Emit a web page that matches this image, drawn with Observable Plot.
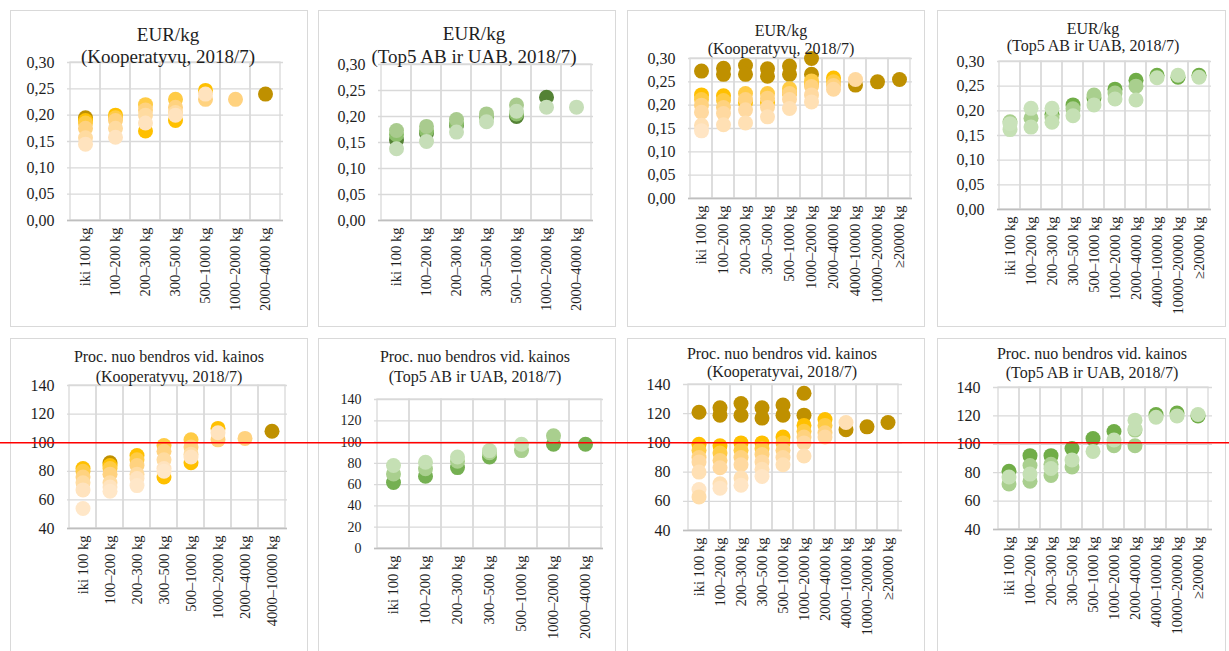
<!DOCTYPE html>
<html><head><meta charset="utf-8">
<script src="https://cdn.jsdelivr.net/npm/d3@7"></script>
<script src="https://cdn.jsdelivr.net/npm/@observablehq/plot@0.6"></script>
<style>
body{margin:0;background:#fff;font-family:"Liberation Serif","Times New Roman",serif;}
#page{position:relative;width:1229px;height:651px;overflow:hidden;background:#fff;}
.box{position:absolute;border:1px solid #d9d9d9;box-sizing:border-box;z-index:0;}
.tl{position:absolute;width:400px;text-align:center;color:#1e1e1e;white-space:nowrap;z-index:3;}
.chart{position:absolute;z-index:1;}
.chart svg{overflow:visible;}
.redline{position:absolute;z-index:4;pointer-events:none;}
</style></head><body><div id="page"></div>
<script>
// ---------- categories ----------
const catsA = ["iki 100 kg","100–200 kg","200–300 kg","300–500 kg","500–1000 kg","1000–2000 kg","2000–4000 kg"];
const catsC = [...catsA, "4000–10000 kg"];
const catsB = [...catsA, "4000–10000 kg","10000–20000 kg","≥20000 kg"];

// ---------- colours ----------
const coopColors6 = ["#BF9000","#FFC000","#FFCB45","#FFD27F","#FFDBA0","#FFE3BE"];
const coopColors7 = ["#BF9000","#FFC000","#FFCB45","#FFD27F","#FFDBA0","#FFE3BE","#FFE7C8"];
const coopColors9 = ["#BF9000","#BF9000","#FFC000","#FFCB45","#FFD27F","#FFD9A0","#FFE0B4","#FFE5C4","#FFDDAA"];
const p2Colors = ["#548235","#8CBF6B","#A9CB8E","#C6DEB8"];
const p4Colors = ["#70AD47","#A9CF8E","#C5E0B4","#C9E2BA"];
const p6Colors = ["#75B052","#A9CF8E","#C5E0B4"];
const p8Colors = ["#70AD47","#A9CF8E","#A9CF8E","#C5E0B4","#C5E0B4"];

// ---------- values ----------
const p1Values = [
  [0.195, null, null, null, null, null, 0.24],
  [0.19, 0.20, 0.17, 0.19, 0.247, null, null],
  [0.185, 0.195, 0.22, 0.23, null, null, null],
  [0.175, 0.19, 0.21, 0.215, 0.23, 0.23, null],
  [0.157, 0.175, 0.2, 0.205, null, null, null],
  [0.145, 0.158, 0.185, 0.2, 0.24, null, null]
];
const p2Values = [
  [0.155, 0.168, 0.183, null, 0.2, 0.237, null],
  [0.165, 0.172, 0.186, 0.198, 0.205, null, null],
  [0.173, 0.181, 0.194, 0.205, 0.222, null, null],
  [0.138, 0.152, 0.17, 0.19, 0.21, 0.218, 0.218]
];
const p3Values = [
  [0.273, 0.279, 0.285, 0.278, 0.284, 0.30, null, 0.243, 0.25, 0.255],
  [null, 0.266, 0.266, 0.262, 0.266, 0.266, null, null, null, null],
  [0.222, 0.22, 0.205, 0.205, 0.225, 0.245, 0.258, null, null, null],
  [0.212, 0.21, 0.225, 0.225, 0.235, 0.252, 0.25, null, null, null],
  [0.2, 0.195, 0.212, 0.215, 0.225, 0.24, 0.242, null, null, null],
  [0.185, 0.182, 0.19, 0.195, 0.212, 0.222, 0.234, 0.255, null, null],
  [0.157, 0.158, 0.162, 0.175, 0.193, 0.207, null, null, null, null],
  [0.145, null, null, null, null, null, null, null, null, null]
];
const p4Values = [
  [null, null, 0.193, 0.212, 0.226, 0.244, 0.262, 0.272, 0.268, 0.272],
  [0.178, 0.185, 0.186, 0.204, 0.232, 0.236, 0.25, null, null, null],
  [0.162, 0.167, 0.177, 0.19, 0.212, 0.224, 0.222, 0.267, 0.272, 0.268],
  [0.174, 0.205, 0.205, null, null, null, null, null, null, null]
];
const p5Values = [
  [null, 86, null, null, null, null, null, 108],
  [82, 84, 91, 76, 86, 110, null, null],
  [80, 82, 88, 98, 102, null, null, null],
  [76, 78, 84, 94, 97, 102, 103, null],
  [72, 72, 78, 88, 92, null, null, null],
  [67, 69, 75, 82, 90, 107, null, null],
  [54, 66, 70, 80, null, null, null, null]
];
const p6Values = [
  [62, 68, 76, 86, null, 98, 98],
  [70, 75, 82, 90, 92, 106, null],
  [78, 81, 86, 92, 98, null, null]
];
const p7Values = [
  [121, 124, 127, 124, 126, 134, null, 109, 111, 114],
  [null, 119, 119, 117, 119, 119, null, null, null, null],
  [99, 98, 100, 100, 104, 112, 116, null, null, null],
  [95, 93, 95, 96, 100, 108, 112, null, null, null],
  [90, 88, 90, 92, 95, 104, 107, null, null, null],
  [87, 83, 85, 87, 90, 100, 104, null, null, null],
  [80, 72, 76, 82, 85, 91, null, 114, null, null],
  [68, 69, 71, 77, null, null, null, null, null, null],
  [63, null, null, null, null, null, null, null, null, null]
];
const p8Values = [
  [81, 92, 92, 97, 104, 109, null, 121, 122, 120],
  [72, 74, 78, 84, null, 99, 99, null, null, null],
  [null, 85, 86, null, null, null, 110, null, null, null],
  [77, 79, 83, 89, 95, 103, 111, 119, 120, 121],
  [null, null, null, null, null, null, 117, null, null, null]
];

// ---------- axes ----------
const eurTicks = [0, 0.05, 0.10, 0.15, 0.20, 0.25, 0.30];
const pct40Ticks = [40, 60, 80, 100, 120, 140];
const pct0Ticks = [0, 20, 40, 60, 80, 100, 120, 140];
const refLine = [100];

const eurFmt = d => d.toFixed(2).replace(".", ",");
const pctFmt = d => String(d);

const page = document.getElementById("page");

function addTitle(text, cx, cy, size) {
  const d = document.createElement("div");
  d.className = "tl";
  d.textContent = text;
  d.style.left = (cx - 200) + "px";
  d.style.top = (cy - size * 0.6) + "px";
  d.style.fontSize = size + "px";
  d.style.lineHeight = (size * 1.2) + "px";
  page.appendChild(d);
}

function panel(cfg) {
  const {cats, values, colors, yTicks, fmt, area, box, titles, titleSize, yFont, xFont} = cfg;
  const [x0, x1, y0, y1] = area;
  const b = document.createElement("div");
  b.className = "box";
  b.style.left = box[0] + "px"; b.style.top = box[1] + "px";
  b.style.width = box[2] + "px"; b.style.height = box[3] + "px";
  page.appendChild(b);

  const rows = [];
  values.forEach((vals, si) => vals.forEach((v, ci) => {
    if (v != null) rows.push({cat: cats[ci], v, color: colors[si]});
  }));
  const yDom = [yTicks[0], yTicks[yTicks.length - 1]];
  const mL = 60, mT = 12, mR = 12, mB = 130;
  const chart = Plot.plot({
    width: (x1 - x0) + mL + mR,
    height: (y1 - y0) + mT + mB,
    marginLeft: mL, marginTop: mT, marginRight: mR, marginBottom: mB,
    style: {fontFamily: "'Liberation Serif','Times New Roman',serif", color: "#1e1e1e", background: "transparent"},
    x: {type: "band", domain: cats, padding: 0},
    y: {domain: yDom},
    color: {type: "identity"},
    marks: [
      Plot.gridY(yTicks, {stroke: "#d9d9d9", strokeOpacity: 1, strokeWidth: 1.3}),
      Plot.barY(cats, {x: d => d, y1: yDom[0], y2: yDom[1], fill: "none", stroke: "#d9d9d9", strokeWidth: 1.3}),
      Plot.ruleY([yDom[0]], {stroke: "#bfbfbf", strokeWidth: 1.3}),
      Plot.dot(rows, {x: "cat", y: "v", r: 7.5, fill: "color", stroke: null}),
      Plot.axisY(yTicks, {tickSize: 0, tickPadding: 13, tickFormat: fmt, fontSize: yFont, label: null}),
      Plot.axisX({tickSize: 0, tickPadding: 7, tickRotate: -90, fontSize: xFont, label: null})
    ]
  });
  const wrap = document.createElement("div");
  wrap.className = "chart";
  wrap.style.left = (x0 - mL) + "px";
  wrap.style.top = (y0 - mT) + "px";
  wrap.appendChild(chart);
  page.appendChild(wrap);
  titles.forEach(t => addTitle(t[0], t[1], t[2], titleSize));
}

panel({cats: catsA, values: p1Values, colors: coopColors6, yTicks: eurTicks, fmt: eurFmt,
  area: [67, 283, 62, 220], box: [10, 10, 298, 317],
  titles: [["EUR/kg", 168, 35], ["(Kooperatyvų, 2018/7)", 168, 57]], titleSize: 19, yFont: 16, xFont: 14.5});
panel({cats: catsA, values: p2Values, colors: p2Colors, yTicks: eurTicks, fmt: eurFmt,
  area: [378, 593, 64, 220], box: [318, 10, 298, 317],
  titles: [["EUR/kg", 474, 34], ["(Top5 AB ir UAB, 2018/7)", 474, 57]], titleSize: 19, yFont: 16, xFont: 14.5});
panel({cats: catsB, values: p3Values, colors: coopColors9.slice(0, 8), yTicks: eurTicks, fmt: eurFmt,
  area: [688, 912, 58, 198], box: [627, 10, 298, 317],
  titles: [["EUR/kg", 781, 31], ["(Kooperatyvų, 2018/7)", 781, 49]], titleSize: 16, yFont: 16, xFont: 14.5});
panel({cats: catsB, values: p4Values, colors: p4Colors, yTicks: eurTicks, fmt: eurFmt,
  area: [997, 1211, 61, 209], box: [937, 10, 289, 317],
  titles: [["EUR/kg", 1093, 29], ["(Top5 AB ir UAB, 2018/7)", 1093, 46]], titleSize: 16, yFont: 16, xFont: 14.5});

panel({cats: catsC, values: p5Values, colors: coopColors7, yTicks: pct40Ticks, fmt: pctFmt,
  area: [67, 287, 385, 528], box: [10, 338, 298, 330],
  titles: [["Proc. nuo bendros vid. kainos", 169, 357], ["(Kooperatyvų, 2018/7)", 169, 377]], titleSize: 16, yFont: 16, xFont: 14.5});
panel({cats: catsA, values: p6Values, colors: p6Colors, yTicks: pct0Ticks, fmt: pctFmt,
  area: [374, 603, 399, 548], box: [318, 338, 298, 330],
  titles: [["Proc. nuo bendros vid. kainos", 475, 357], ["(Top5 AB ir UAB, 2018/7)", 475, 377]], titleSize: 16, yFont: 14, xFont: 14.5});
panel({cats: catsB, values: p7Values, colors: coopColors9, yTicks: pct40Ticks, fmt: pctFmt,
  area: [683, 902, 384, 530], box: [627, 338, 298, 330],
  titles: [["Proc. nuo bendros vid. kainos", 782, 354], ["(Kooperatyvai, 2018/7)", 782, 372]], titleSize: 16, yFont: 16, xFont: 14.5});
panel({cats: catsB, values: p8Values, colors: p8Colors, yTicks: pct40Ticks, fmt: pctFmt,
  area: [993, 1212, 387, 529], box: [937, 338, 289, 330],
  titles: [["Proc. nuo bendros vid. kainos", 1092, 354], ["(Top5 AB ir UAB, 2018/7)", 1092, 373]], titleSize: 16, yFont: 16, xFont: 14.5});

// red reference line at 100 % across the bottom row (same y scale as panel 5)
const red = Plot.plot({
  width: 1229, height: (528 - 385) + 20,
  marginTop: 10, marginBottom: 10, marginLeft: 0, marginRight: 0,
  style: {background: "transparent"},
  y: {domain: [40, 140], axis: null},
  marks: [Plot.ruleY(refLine, {stroke: "#ff0000", strokeWidth: 1.5})]
});
const rw = document.createElement("div");
rw.className = "redline";
rw.style.left = "0px"; rw.style.top = (385 - 10) + "px";
rw.appendChild(red);
page.appendChild(rw);
</script></body></html>
